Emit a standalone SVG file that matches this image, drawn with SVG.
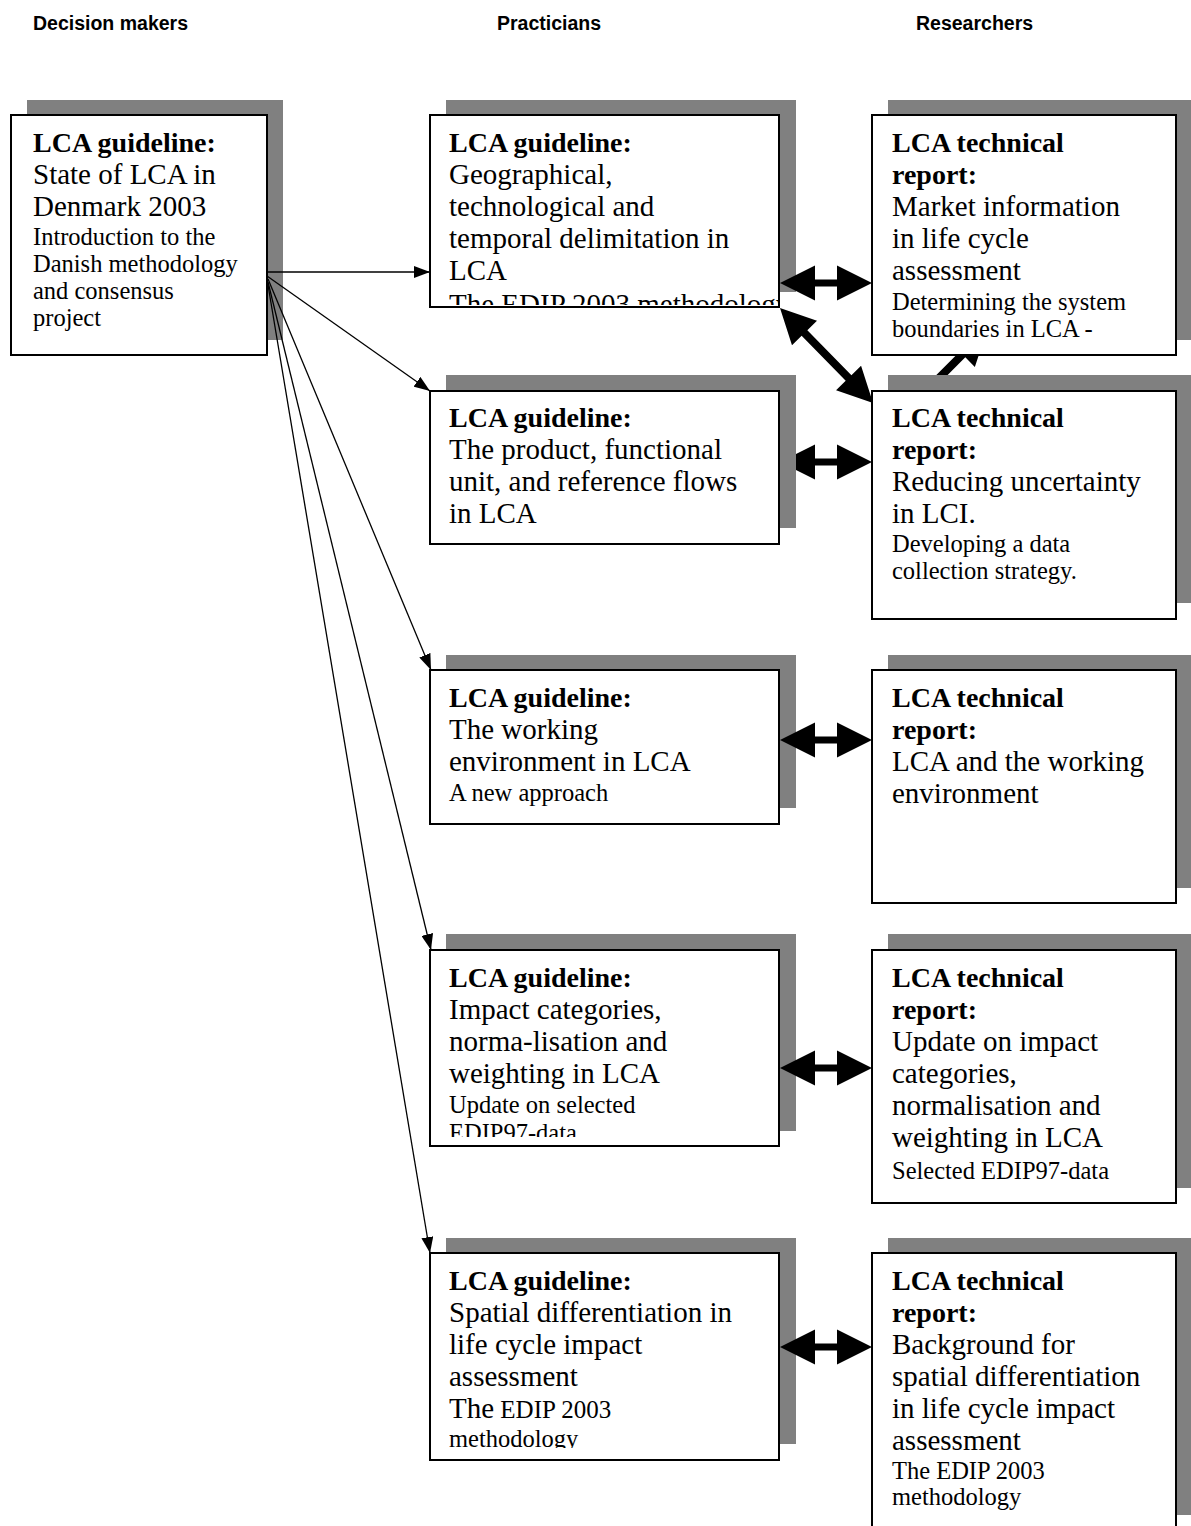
<svg xmlns="http://www.w3.org/2000/svg" width="1191" height="1526" viewBox="0 0 1191 1526">
<style>
.hdr{font-family:"Liberation Sans",Arial,sans-serif;font-size:19.5px;font-weight:bold;fill:#000}
.sh{fill:#808080}
.bx{fill:#fff;stroke:#000;stroke-width:2}
.t{font-family:"Liberation Serif","Times New Roman",serif;fill:#000}
.b{font-size:28px;font-weight:bold}
.m{font-size:29px}
.s{font-size:24.5px}
.thin{stroke:#000;stroke-width:1.3;fill:none}
.thick{fill:#000}
</style>
<defs>
<marker id="ah" markerUnits="userSpaceOnUse" markerWidth="16" markerHeight="12" refX="16" refY="6" orient="auto">
<path d="M0,0 L16,6 L0,12 Z" fill="#000"/>
</marker>
<path id="dbl" d="M0,0 L35,-17.5 L35,-3.5 L57,-3.5 L57,-17.5 L92,0 L57,17.5 L57,3.5 L35,3.5 L35,17.5 Z"/>
<clipPath id="cA"><rect x="12" y="116" width="254" height="238"/></clipPath>
<clipPath id="cB1"><rect x="431" y="117" width="347" height="188"/></clipPath>
<clipPath id="cB4"><rect x="431" y="951" width="347" height="186"/></clipPath>
<clipPath id="cB5"><rect x="431" y="1254" width="347" height="194"/></clipPath>
<clipPath id="cR1"><rect x="873" y="117" width="302" height="237"/></clipPath>
<clipPath id="cDiag"><rect x="900" y="356" width="100" height="19"/></clipPath>
<clipPath id="cB2R2"><rect x="796" y="430" width="100" height="60"/></clipPath>
</defs>

<g id="headers">
<text class="hdr" x="33" y="30">Decision makers</text>
<text class="hdr" x="497" y="30">Practicians</text>
<text class="hdr" x="916" y="30">Researchers</text>
</g>

<g id="node-state-of-lca">
<rect class="sh" x="27" y="100" width="256" height="240"/>
<rect class="bx" x="11" y="115" width="256" height="240"/>
<g clip-path="url(#cA)">
<text class="t b" x="33" y="152">LCA guideline:</text>
<text class="t m" x="33" y="184">State of LCA in</text>
<text class="t m" x="33" y="216">Denmark 2003</text>
<text class="t s" x="33" y="245">Introduction to the</text>
<text class="t s" x="33" y="272">Danish methodology</text>
<text class="t s" x="33" y="299">and consensus</text>
<text class="t s" x="33" y="326">project</text>
</g>
</g>

<g id="node-geo-delimitation">
<rect class="sh" x="446" y="100" width="350" height="192"/>
<rect class="bx" x="430" y="115" width="349" height="192"/>
<g clip-path="url(#cB1)">
<text class="t b" x="449" y="152">LCA guideline:</text>
<text class="t m" x="449" y="184">Geographical,</text>
<text class="t m" x="449" y="216">technological and</text>
<text class="t m" x="449" y="248">temporal delimitation in</text>
<text class="t m" x="449" y="280">LCA</text>
<text class="t m" x="449" y="314">The EDIP 2003 methodology</text>
</g>
</g>

<g id="node-market-info">
<rect class="sh" x="888" y="100" width="304" height="240"/>
<rect class="bx" x="872" y="115" width="304" height="240"/>
<g clip-path="url(#cR1)">
<text class="t b" x="892" y="152">LCA technical</text>
<text class="t b" x="892" y="184">report:</text>
<text class="t m" x="892" y="216">Market information</text>
<text class="t m" x="892" y="248">in life cycle</text>
<text class="t m" x="892" y="280">assessment</text>
<text class="t s" x="892" y="310">Determining the system</text>
<text class="t s" x="892" y="337">boundaries in LCA -</text>
</g>
</g>

<g id="node-product-fu">
<rect class="sh" x="446" y="375" width="350" height="153"/>
<rect class="bx" x="430" y="391" width="349" height="153"/>
<text class="t b" x="449" y="427">LCA guideline:</text>
<text class="t m" x="449" y="459">The product, functional</text>
<text class="t m" x="449" y="491">unit, and reference flows</text>
<text class="t m" x="449" y="523">in LCA</text>
</g>

<g id="node-reducing-uncertainty">
<rect class="sh" x="888" y="375" width="304" height="228"/>
<rect class="bx" x="872" y="391" width="304" height="228"/>
<text class="t b" x="892" y="427">LCA technical</text>
<text class="t b" x="892" y="459">report:</text>
<text class="t m" x="892" y="491">Reducing uncertainty</text>
<text class="t m" x="892" y="523">in LCI.</text>
<text class="t s" x="892" y="552">Developing a data</text>
<text class="t s" x="892" y="579">collection strategy.</text>
</g>

<g id="node-working-env-guideline">
<rect class="sh" x="446" y="655" width="350" height="153"/>
<rect class="bx" x="430" y="670" width="349" height="154"/>
<text class="t b" x="449" y="707">LCA guideline:</text>
<text class="t m" x="449" y="739">The working</text>
<text class="t m" x="449" y="771">environment in LCA</text>
<text class="t s" x="449" y="801">A new approach</text>
</g>

<g id="node-working-env-report">
<rect class="sh" x="888" y="655" width="304" height="233"/>
<rect class="bx" x="872" y="670" width="304" height="233"/>
<text class="t b" x="892" y="707">LCA technical</text>
<text class="t b" x="892" y="739">report:</text>
<text class="t m" x="892" y="771">LCA and the working</text>
<text class="t m" x="892" y="803">environment</text>
</g>

<g id="node-impact-guideline">
<rect class="sh" x="446" y="934" width="350" height="197"/>
<rect class="bx" x="430" y="950" width="349" height="196"/>
<g clip-path="url(#cB4)">
<text class="t b" x="449" y="987">LCA guideline:</text>
<text class="t m" x="449" y="1019">Impact categories,</text>
<text class="t m" x="449" y="1051">norma-lisation and</text>
<text class="t m" x="449" y="1083">weighting in LCA</text>
<text class="t s" x="449" y="1113">Update on selected</text>
<text class="t s" x="449" y="1141">EDIP97-data</text>
</g>
</g>

<g id="node-impact-report">
<rect class="sh" x="888" y="934" width="304" height="254"/>
<rect class="bx" x="872" y="950" width="304" height="253"/>
<text class="t b" x="892" y="987">LCA technical</text>
<text class="t b" x="892" y="1019">report:</text>
<text class="t m" x="892" y="1051">Update on impact</text>
<text class="t m" x="892" y="1083">categories,</text>
<text class="t m" x="892" y="1115">normalisation and</text>
<text class="t m" x="892" y="1147">weighting in LCA</text>
<text class="t s" x="892" y="1179">Selected EDIP97-data</text>
</g>

<g id="node-spatial-guideline">
<rect class="sh" x="446" y="1238" width="350" height="206"/>
<rect class="bx" x="430" y="1253" width="349" height="207"/>
<g clip-path="url(#cB5)">
<text class="t b" x="449" y="1290">LCA guideline:</text>
<text class="t m" x="449" y="1322">Spatial differentiation in</text>
<text class="t m" x="449" y="1354">life cycle impact</text>
<text class="t m" x="449" y="1386">assessment</text>
<text class="t m" x="449" y="1418">The<tspan style="font-size:25px"> EDIP 2003</tspan></text>
<text class="t s" x="449" y="1447">methodology</text>
</g>
</g>

<g id="node-spatial-report">
<rect class="sh" x="888" y="1238" width="304" height="277"/>
<rect class="bx" x="872" y="1253" width="304" height="280"/>
<text class="t b" x="892" y="1290">LCA technical</text>
<text class="t b" x="892" y="1322">report:</text>
<text class="t m" x="892" y="1354">Background for</text>
<text class="t m" x="892" y="1386">spatial differentiation</text>
<text class="t m" x="892" y="1418">in life cycle impact</text>
<text class="t m" x="892" y="1450">assessment</text>
<text class="t s" x="892" y="1479">The EDIP 2003</text>
<text class="t s" x="892" y="1505">methodology</text>
</g>

<g id="connectors">
<line class="thin" x1="267" y1="272" x2="430" y2="272" marker-end="url(#ah)"/>
<line class="thin" x1="267" y1="276" x2="430" y2="391" marker-end="url(#ah)"/>
<line class="thin" x1="268" y1="279" x2="431" y2="670" marker-end="url(#ah)"/>
<line class="thin" x1="268" y1="282" x2="431" y2="950" marker-end="url(#ah)"/>
<line class="thin" x1="268" y1="285" x2="430" y2="1253" marker-end="url(#ah)"/>
<use href="#dbl" class="thick" x="780" y="283"/>
<g clip-path="url(#cB2R2)"><use href="#dbl" class="thick" x="780" y="462"/></g>
<use href="#dbl" class="thick" x="780" y="740"/>
<use href="#dbl" class="thick" x="780" y="1068"/>
<use href="#dbl" class="thick" x="780" y="1347"/>
<path class="thick" transform="translate(780,308) rotate(45.6)" d="M0,0 L35,-17.5 L35,-4 L98,-4 L98,-17.5 L133,0 L98,17.5 L98,4 L35,4 L35,17.5 Z"/>
<g clip-path="url(#cDiag)">
<path class="thick" transform="translate(925,392) rotate(-45)" d="M0,-4 L53,-4 L53,-17.5 L88,0 L53,17.5 L53,4 L0,4 Z"/>
</g>
</g>
</svg>
